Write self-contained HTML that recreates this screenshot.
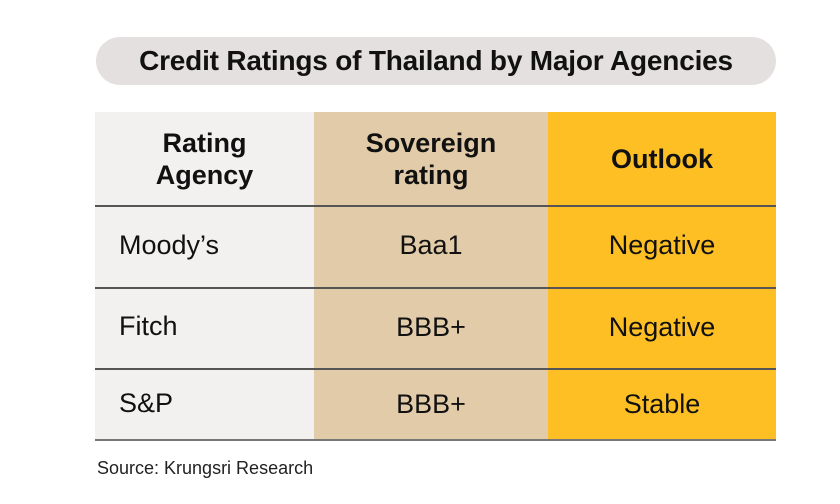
<!DOCTYPE html>
<html><head><style>
body{margin:0;width:840px;height:504px;background:#fff;font-family:"Liberation Sans",sans-serif;position:relative;overflow:hidden;color:#111}
.pill{position:absolute;left:96px;top:37px;width:680px;height:48px;border-radius:24px;background:#e5e0e0;text-align:center;line-height:48px;font-weight:bold;font-size:28px;letter-spacing:-0.2px}
.c{position:absolute;top:112px;height:328px}
.t{position:absolute;font-size:27px;display:flex;align-items:center}
.h{font-weight:bold;text-align:center;justify-content:center;line-height:32px}
.ln{position:absolute;left:95px;width:681px;height:1.5px;background:#555}
</style></head><body>
<div class="pill">Credit Ratings of Thailand by Major Agencies</div>
<div class="c" style="left:95px;width:219px;background:#f3f0f0"></div>
<div class="c" style="left:314px;width:234px;background:#e2cba8"></div>
<div class="c" style="left:548px;width:228px;background:#fdbf24"></div>
<div class="ln" style="top:205px"></div>
<div class="ln" style="top:287px"></div>
<div class="ln" style="top:368px"></div>
<div class="ln" style="top:439px;height:2px;background:#777"></div>
<div class="t h" style="left:95px;width:219px;top:112px;height:93px">Rating<br>Agency</div>
<div class="t h" style="left:314px;width:234px;top:112px;height:93px">Sovereign<br>rating</div>
<div class="t h" style="left:548px;width:228px;top:112px;height:93px">Outlook</div>
<div class="t" style="left:119px;top:205px;height:80px">Moody’s</div>
<div class="t" style="left:119px;top:287px;height:79px">Fitch</div>
<div class="t" style="left:119px;top:368px;height:71px">S&amp;P</div>
<div class="t h" style="left:314px;width:234px;top:205px;height:80px;font-weight:normal">Baa1</div>
<div class="t h" style="left:314px;width:234px;top:287px;height:79px;font-weight:normal">BBB+</div>
<div class="t h" style="left:314px;width:234px;top:368px;height:71px;font-weight:normal">BBB+</div>
<div class="t h" style="left:548px;width:228px;top:205px;height:80px;font-weight:normal">Negative</div>
<div class="t h" style="left:548px;width:228px;top:287px;height:79px;font-weight:normal">Negative</div>
<div class="t h" style="left:548px;width:228px;top:368px;height:71px;font-weight:normal">Stable</div>
<div style="position:absolute;left:97px;top:458px;font-size:18px;color:#222">Source: Krungsri Research</div>
</body></html>
